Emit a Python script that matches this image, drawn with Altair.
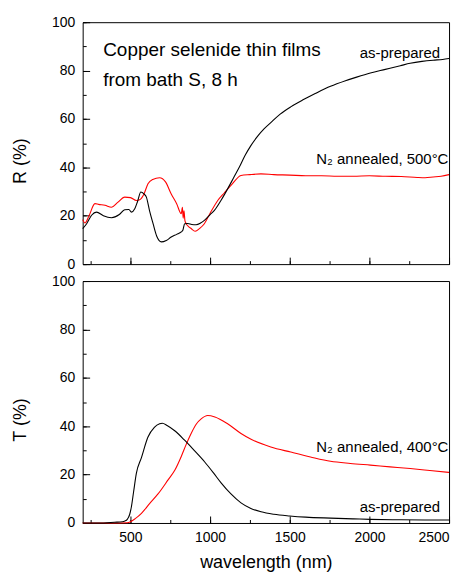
import altair as alt
import pandas as pd

# ---------------- data ----------------
# Reflectance, as-prepared (black)
r_asprep_wl = [200, 225, 256, 287, 330, 381, 430, 464, 490, 506, 527, 545, 565, 585, 600,
               620, 642, 665, 694, 725, 756, 790, 819, 829, 840, 860, 885, 912, 940, 964,
               1000, 1027, 1070, 1110, 1150, 1183, 1220, 1256, 1300, 1340, 1381, 1440, 1506,
               1580, 1660, 1756, 1850, 1920, 2006, 2100, 2194, 2256, 2330, 2400, 2460, 2500]
r_asprep = [14.7, 16.7, 20.2, 21.5, 20.0, 19.2, 20.5, 22.5, 22.6, 21.5, 22.9, 26.0, 29.8, 29.0, 27.7,
            22.0, 16.7, 11.5, 9.2, 9.8, 11.2, 12.3, 13.3, 14.0, 16.7, 16.8, 16.4, 16.3, 17.0, 18.1,
            20.5, 22.2, 26.5, 31.1, 36.0, 40.0, 45.0, 49.0, 53.0, 56.0, 58.5, 62.0, 65.0,
            67.8, 70.5, 73.5, 75.8, 77.3, 79.0, 80.5, 82.0, 83.0, 83.8, 84.3, 84.6, 85.0]

# Reflectance, N2 annealed 500 C (red)
r_ann_wl = [200, 215, 240, 277, 300, 340, 381, 420, 464, 500, 537, 558, 585, 610, 640, 683,
            720, 756, 790, 819, 826, 831, 836, 842, 850, 865, 881, 906, 935, 964, 1000, 1048,
            1090, 1131, 1194, 1250, 1319, 1400, 1500, 1600, 1700, 1800, 1900, 2000, 2100,
            2200, 2300, 2350, 2400, 2450, 2500]
r_ann = [18.4, 17.0, 20.0, 25.0, 24.7, 24.3, 23.5, 25.5, 27.7, 27.5, 26.3, 26.6, 29.0, 33.2, 35.0, 35.7,
         34.0, 29.0, 25.0, 20.8, 23.5, 19.0, 22.0, 18.0, 16.7, 15.5, 14.7, 13.6, 14.8, 16.7, 21.0, 26.3,
         29.5, 32.5, 36.6, 37.0, 37.3, 37.0, 36.8, 36.5, 36.5, 36.3, 36.3, 36.5, 36.3,
         36.2, 35.8, 35.7, 36.0, 36.3, 37.0]

# Transmittance, as-prepared (black)
t_asprep_wl = [200, 300, 400, 450, 465, 480, 495, 506, 520, 537, 569, 610, 650, 683, 700, 730,
               780, 840, 900, 965, 1020, 1069, 1131, 1194, 1256, 1320, 1400, 1500, 1600, 1756,
               1900, 2006, 2200, 2400, 2500]
t_asprep = [0.0, 0.0, 0.3, 0.5, 0.8, 1.5, 3.5, 6.7, 13.0, 20.5, 27.0, 35.5, 39.5, 41.0, 41.2, 40.3,
            38.0, 34.2, 30.0, 25.3, 20.8, 16.6, 12.0, 8.3, 6.0, 4.6, 3.6, 2.9, 2.4, 2.0,
            1.7, 1.5, 1.3, 1.2, 1.2]

# Transmittance, N2 annealed 400 C (red)
t_ann_wl = [200, 400, 480, 500, 530, 569, 620, 673, 735, 780, 819, 850, 881, 915, 944, 985,
            1030, 1110, 1194, 1260, 1381, 1506, 1630, 1756, 1880, 2006, 2130, 2256, 2380, 2500]
t_ann = [0.0, 0.0, 0.1, 0.5, 1.8, 4.0, 8.0, 12.0, 17.7, 22.0, 27.5, 32.5, 37.0, 41.0, 43.0, 44.4,
         43.8, 41.0, 37.0, 34.5, 31.4, 29.3, 27.3, 25.5, 24.6, 23.9, 23.2, 22.5, 21.7, 20.9]

series_names = ["as-prepared", "annealed"]
series_colors = ["#000000", "#ff0000"]

x_major = [500, 1000, 1500, 2000, 2500]
x_minor = [250, 500, 750, 1000, 1250, 1500, 1750, 2000, 2250, 2500]
y_major = [0, 20, 40, 60, 80, 100]
y_minor = [0, 10, 20, 30, 40, 50, 60, 70, 80, 90, 100]

# annotations (text, wavelength, value)
top_left_text = ["Copper selenide thin films", "from bath S, 8 h"]
top_left_x = [329, 329]
top_left_y = [86.0, 73.7]
top_right_text = ["as-prepared", "N\u2082 annealed, 500\u00b0C"]
top_right_x = [2444, 2496]
top_right_y = [85.3, 41.4]
bot_right_text = ["N\u2082 annealed, 400\u00b0C", "as-prepared"]
bot_right_x = [2496, 2444]
bot_right_y = [29.3, 4.6]


def long_df(pairs):
    frames = []
    for wl, vals, name in pairs:
        frames.append(pd.DataFrame({"wl": wl, "val": vals, "series": name}))
    return pd.concat(frames, ignore_index=True)


R_df = long_df([(r_ann_wl, r_ann, "annealed"), (r_asprep_wl, r_asprep, "as-prepared")])
T_df = long_df([(t_ann_wl, t_ann, "annealed"), (t_asprep_wl, t_asprep, "as-prepared")])

xscale = alt.Scale(domain=[200, 2500], nice=False, zero=False)
yscale = alt.Scale(domain=[0, 100], nice=False)
color = alt.Color("series:N", scale=alt.Scale(domain=series_names, range=series_colors), legend=None)

FONT = "Liberation Sans"
W, H = 368, 243


def panel(df, ytitle, xlabels, texts):
    major_x = alt.Axis(values=x_major, tickSize=7, offset=-7, domain=False, grid=False,
                       labels=xlabels, labelPadding=8, format="d", orient="bottom",
                       title="wavelength (nm)" if xlabels else None, titlePadding=9,
                       tickColor="black", labelColor="black", titleColor="black",
                       labelFontSize=14, titleFontSize=18, titleFontWeight="normal",
                       labelFont=FONT, titleFont=FONT)
    minor_x = alt.Axis(values=x_minor, tickSize=3.5, offset=-3.5, domain=False, grid=False,
                       labels=False, title=None, orient="bottom", tickColor="black")
    major_y = alt.Axis(values=y_major, tickSize=7, offset=-7, domain=False, grid=False,
                       labelPadding=8, orient="left", title=ytitle, titlePadding=20,
                       titleX=-60, titleY=139,
                       tickColor="black", labelColor="black", titleColor="black",
                       labelFontSize=14, titleFontSize=18, titleFontWeight="normal",
                       labelFont=FONT, titleFont=FONT)
    minor_y = alt.Axis(values=y_minor, tickSize=3.5, offset=-3.5, domain=False, grid=False,
                       labels=False, title=None, orient="left", tickColor="black")

    lines = alt.Chart(df).mark_line(strokeWidth=1.1, interpolate="monotone").encode(
        x=alt.X("wl:Q", scale=xscale, axis=major_x),
        y=alt.Y("val:Q", scale=yscale, axis=major_y),
        color=color,
        detail="series:N",
    )
    minor = alt.Chart(df).mark_line(opacity=0).encode(
        x=alt.X("wl:Q", scale=xscale, axis=minor_x),
        y=alt.Y("val:Q", scale=yscale, axis=minor_y),
        detail="series:N",
    )
    layers = [lines, minor]
    for (txt, xs, ys, align, size) in texts:
        tdf = pd.DataFrame({"t": txt, "x": xs, "y": ys})
        layers.append(
            alt.Chart(tdf).mark_text(align=align, baseline="alphabetic", font=FONT,
                                     fontSize=size, color="black").encode(
                x=alt.X("x:Q", scale=xscale, axis=None),
                y=alt.Y("y:Q", scale=yscale, axis=None),
                text="t:N",
            )
        )
    return alt.layer(*layers).resolve_axis(x="independent", y="independent").properties(
        width=W, height=H)


top = panel(R_df, "R (%)", False, [
    (top_left_text, top_left_x, top_left_y, "left", 19),
    (top_right_text, top_right_x, top_right_y, "right", 15),
])
bottom = panel(T_df, "T (%)", True, [
    (bot_right_text, bot_right_x, bot_right_y, "right", 15),
])

chart = alt.vconcat(top, bottom, spacing=1).properties(
    padding={"left": 3, "top": 5, "right": 5, "bottom": 2}
).configure_view(stroke="black", strokeWidth=1)

chart.save("out.html", embed_options={"renderer": "svg", "actions": False})
